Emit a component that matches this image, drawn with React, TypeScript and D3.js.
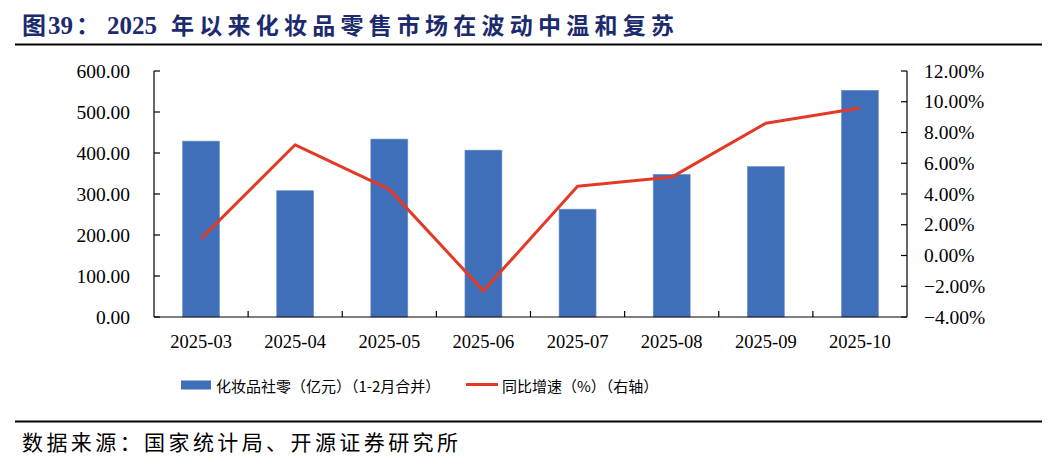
import React from "react";
import * as d3 from "d3";

const categories = ["2025-03", "2025-04", "2025-05", "2025-06", "2025-07", "2025-08", "2025-09", "2025-10"];
const salesValues = [429, 308, 434, 407, 263, 348, 367, 553];
const growthValues = [1.1, 7.2, 4.3, -2.3, 4.5, 5.1, 8.6, 9.6];
const leftTicks = [0, 100, 200, 300, 400, 500, 600];
const rightTicks = [-4, -2, 0, 2, 4, 6, 8, 10, 12];

const W = 1059;
const H = 464;
const x0 = 154;
const x1 = 907;
const yTop = 71;
const yBottom = 317;

const serif = "'Liberation Serif', 'Times New Roman', serif";
const cjk = "'Noto Sans CJK SC', sans-serif";

export default function App() {
  const xc = d3.scaleBand<string>().domain(categories).range([x0, x1]);
  const yL = d3.scaleLinear().domain([0, 600]).range([yBottom, yTop]);
  const yR = d3.scaleLinear().domain([-4, 12]).range([yBottom, yTop]);
  const line = d3
    .line<number>()
    .x((_, i) => (xc(categories[i]) as number) + xc.bandwidth() / 2)
    .y((d) => yR(d));

  const barColor = "#3F6FB9";
  const lineColor = "#E33A27";
  const titleColor = "#1C2A6E";

  return (
    <svg width={W} height={H} style={{ position: "absolute", left: 0, top: 0, background: "#fff" }}>
      <rect x={0} y={0} width={W} height={H} fill="#fff" />
      {/* Title */}
      <text x={22} y={34} fontFamily={cjk} fontWeight="bold" fontSize={24} fill={titleColor}>
        图
      </text>
      <text x={48} y={34} fontFamily={serif} fontWeight="bold" fontSize={25} fill={titleColor}>
        39
      </text>
      <text x={76} y={34} fontFamily={cjk} fontWeight="bold" fontSize={24} fill={titleColor}>
        ：
      </text>
      <text x={107} y={34} fontFamily={serif} fontWeight="bold" fontSize={25} fill={titleColor}>
        2025
      </text>
      <text
        x={171}
        y={34}
        fontFamily={cjk}
        fontWeight="bold"
        fontSize={23}
        fill={titleColor}
        textLength={503}
        lengthAdjust="spacing"
      >
        年以来化妆品零售市场在波动中温和复苏
      </text>
      <line x1={15} x2={1042} y1={44.5} y2={44.5} stroke="#000" strokeWidth={2} />

      {/* bars */}
      {salesValues.map((v, i) => (
        <rect
          key={i}
          x={(xc(categories[i]) as number) + xc.bandwidth() / 2 - 18.5}
          y={yL(v)}
          width={37}
          height={yBottom - yL(v)}
          fill={barColor}
          stroke="#6F95CE"
          strokeWidth={0.6}
        />
      ))}

      {/* line */}
      <path d={line(growthValues) || ""} fill="none" stroke={lineColor} strokeWidth={3} strokeLinejoin="round" />

      {/* axes */}
      <line x1={x0} x2={x0} y1={yTop} y2={yBottom} stroke="#000" strokeWidth={1.2} />
      <line x1={x1} x2={x1} y1={yTop} y2={yBottom} stroke="#000" strokeWidth={1.2} />
      <line x1={x0} x2={x1} y1={yBottom} y2={yBottom} stroke="#000" strokeWidth={1.2} />
      {leftTicks.map((t) => (
        <g key={"l" + t}>
          <line x1={x0} x2={x0 + 6} y1={yL(t)} y2={yL(t)} stroke="#000" strokeWidth={1.2} />
          <text x={130} y={yL(t) + 6.5} textAnchor="end" fontFamily={serif} fontSize={19.5} fill="#000">
            {d3.format(".2f")(t)}
          </text>
        </g>
      ))}
      {rightTicks.map((t) => (
        <g key={"r" + t}>
          <line x1={x1 - 6} x2={x1} y1={yR(t)} y2={yR(t)} stroke="#000" strokeWidth={1.2} />
          <text x={924} y={yR(t) + 6.5} textAnchor="start" fontFamily={serif} fontSize={19.5} fill="#000">
            {d3.format(".2f")(t) + "%"}
          </text>
        </g>
      ))}
      {categories.slice(1).map((c) => (
        <line key={"t" + c} x1={xc(c)} x2={xc(c)} y1={yBottom - 6} y2={yBottom} stroke="#000" strokeWidth={1.2} />
      ))}
      {categories.map((c) => (
        <text
          key={"x" + c}
          x={(xc(c) as number) + xc.bandwidth() / 2}
          y={348}
          textAnchor="middle"
          fontFamily={serif}
          fontSize={18.5}
          fill="#000"
        >
          {c}
        </text>
      ))}

      {/* legend */}
      <rect x={181} y={380.5} width={30} height={9} fill={barColor} />
      <text x={216} y={392} fontFamily={cjk} fontSize={15} fill="#000">
        化妆品社零（亿元）（1-2月合并）
      </text>
      <line x1={466} x2={498} y1={384.5} y2={384.5} stroke={lineColor} strokeWidth={3} />
      <text x={502} y={392} fontFamily={cjk} fontSize={15} fill="#000">
        同比增速（%）（右轴）
      </text>

      {/* footer */}
      <line x1={15} x2={1042} y1={421.5} y2={421.5} stroke="#000" strokeWidth={2} />
      <text x={22} y={450} fontFamily={cjk} fontSize={21} fill="#000" textLength={436} lengthAdjust="spacing">
        数据来源：国家统计局、开源证券研究所
      </text>
    </svg>
  );
}
